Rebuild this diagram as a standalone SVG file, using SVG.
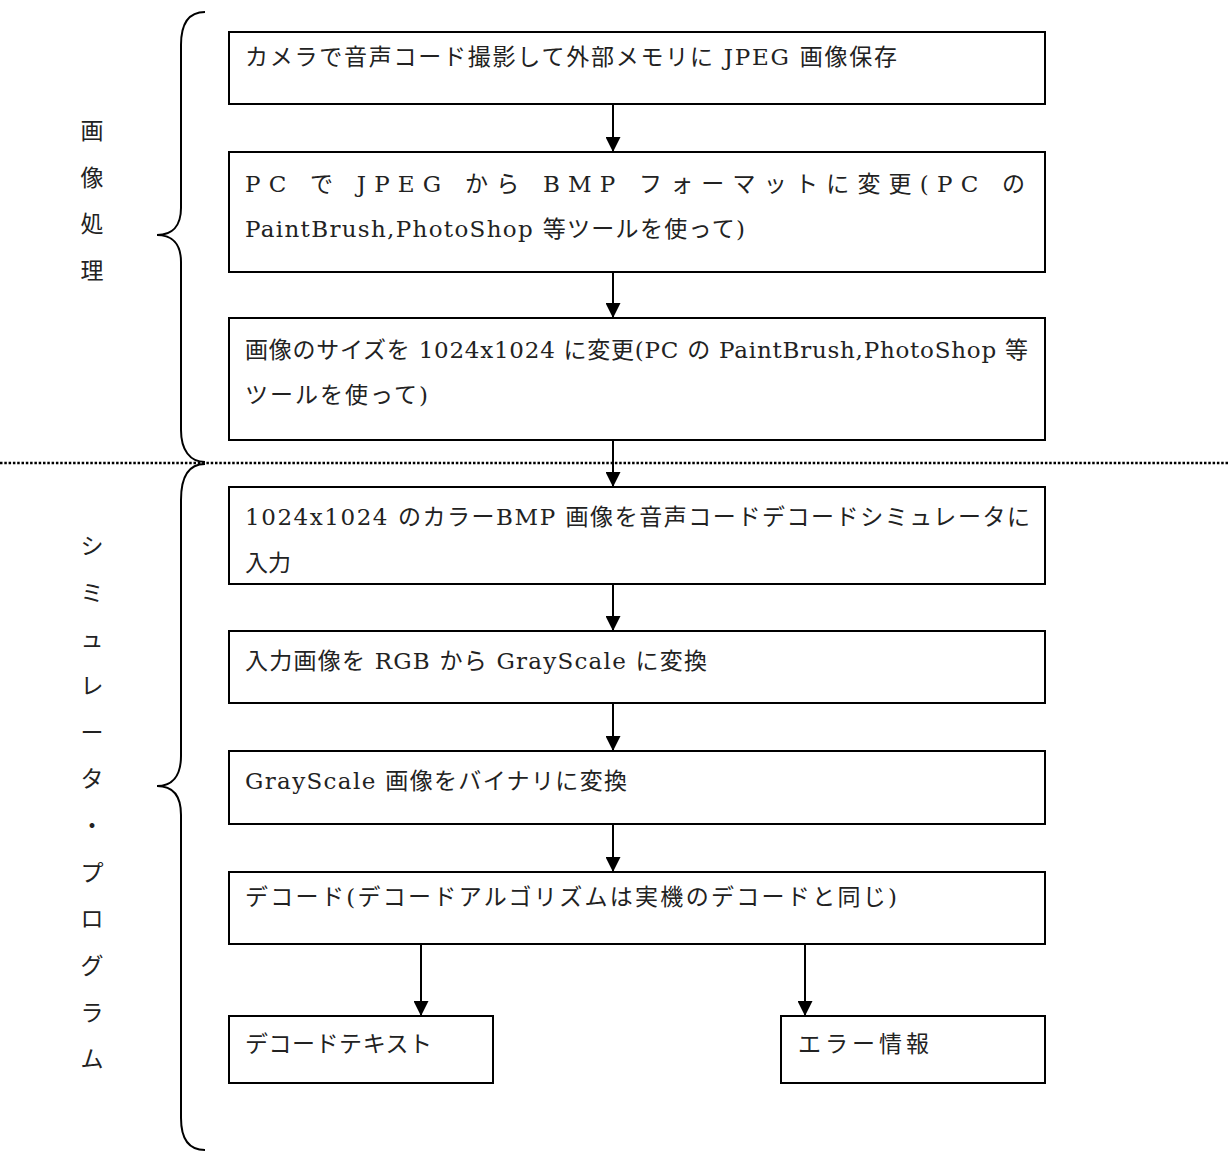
<svg xmlns="http://www.w3.org/2000/svg" width="1229" height="1155" viewBox="0 0 1229 1155">
<defs>
<style>
.box{fill:#fff;stroke:#000;stroke-width:2}
.t{font-family:"DejaVu Serif","Noto Sans CJK JP",serif;font-size:23px;fill:#222}
.lbl{font-family:"Noto Sans CJK JP",serif;font-size:23px;fill:#222;text-anchor:middle}
.conn{stroke:#000;stroke-width:2;fill:none}
.brace{stroke:#000;stroke-width:2;fill:none}
</style>
<marker id="ah" viewBox="0 0 10 10" refX="10" refY="5" markerWidth="15" markerHeight="15" markerUnits="userSpaceOnUse" orient="auto">
<path d="M0,0 L10,5 L0,10 z" fill="#000"/>
</marker>
</defs>
<rect width="1229" height="1155" fill="#fff"/>

<g id="braces">
<path class="brace" d="M205,12 C190,12 181,22 181,45 L181,208 C181,226 172,235 157,235 C172,235 181,244 181,262 L181,430 C181,450 190,462 205,462"/>
<path class="brace" d="M205,464 C190,464 181,475 181,500 L181,756 C181,776 172,786 157,786 C172,786 181,795 181,815 L181,1118 C181,1140 190,1150 205,1150"/>
</g>

<line id="separator" x1="0" y1="463" x2="1229" y2="463" stroke="#000" stroke-width="2.5" stroke-dasharray="2.5 1.8"/>

<g id="label-image">
<text class="lbl" x="92" y="139">画</text>
<text class="lbl" x="92" y="186">像</text>
<text class="lbl" x="92" y="232">処</text>
<text class="lbl" x="92" y="279">理</text>
</g>
<g id="label-sim">
<text class="lbl" x="92" y="554">シ</text>
<text class="lbl" x="92" y="601">ミ</text>
<text class="lbl" x="92" y="647">ュ</text>
<text class="lbl" x="92" y="694">レ</text>
<text class="lbl" x="92" y="741">ー</text>
<text class="lbl" x="92" y="787">タ</text>
<text class="lbl" x="92" y="834">・</text>
<text class="lbl" x="92" y="881">プ</text>
<text class="lbl" x="92" y="927">ロ</text>
<text class="lbl" x="92" y="974">グ</text>
<text class="lbl" x="92" y="1021">ラ</text>
<text class="lbl" x="92" y="1067">ム</text>
</g>

<g id="connectors">
<line class="conn" x1="613" y1="104" x2="613" y2="152" marker-end="url(#ah)"/>
<line class="conn" x1="613" y1="272" x2="613" y2="318" marker-end="url(#ah)"/>
<line class="conn" x1="613" y1="440" x2="613" y2="487" marker-end="url(#ah)"/>
<line class="conn" x1="613" y1="584" x2="613" y2="631" marker-end="url(#ah)"/>
<line class="conn" x1="613" y1="703" x2="613" y2="751" marker-end="url(#ah)"/>
<line class="conn" x1="613" y1="824" x2="613" y2="872" marker-end="url(#ah)"/>
<line class="conn" x1="421" y1="944" x2="421" y2="1016" marker-end="url(#ah)"/>
<line class="conn" x1="805" y1="944" x2="805" y2="1016" marker-end="url(#ah)"/>
</g>

<g id="n1">
<rect class="box" x="229" y="32" width="816" height="72"/>
<text class="t" x="245" y="65" textLength="652" lengthAdjust="spacing">カメラで音声コード撮影して外部メモリに JPEG 画像保存</text>
</g>
<g id="n2">
<rect class="box" x="229" y="152" width="816" height="120"/>
<text class="t" x="245" y="192" textLength="780" lengthAdjust="spacing">PC で JPEG から BMP フォーマットに変更(PC の</text>
<text class="t" x="245" y="237" textLength="500" lengthAdjust="spacing">PaintBrush,PhotoShop 等ツールを使って)</text>
</g>
<g id="n3">
<rect class="box" x="229" y="318" width="816" height="122"/>
<text class="t" x="245" y="358" textLength="783" lengthAdjust="spacing">画像のサイズを 1024x1024 に変更(PC の PaintBrush,PhotoShop 等</text>
<text class="t" x="245" y="403" textLength="183" lengthAdjust="spacing">ツールを使って)</text>
</g>
<g id="n4">
<rect class="box" x="229" y="487" width="816" height="97"/>
<text class="t" x="245" y="525" textLength="785" lengthAdjust="spacing">1024x1024 のカラーBMP 画像を音声コードデコードシミュレータに</text>
<text class="t" x="245" y="571">入力</text>
</g>
<g id="n5">
<rect class="box" x="229" y="631" width="816" height="72"/>
<text class="t" x="245" y="669" textLength="462" lengthAdjust="spacing">入力画像を RGB から GrayScale に変換</text>
</g>
<g id="n6">
<rect class="box" x="229" y="751" width="816" height="73"/>
<text class="t" x="245" y="789" textLength="382" lengthAdjust="spacing">GrayScale 画像をバイナリに変換</text>
</g>
<g id="n7">
<rect class="box" x="229" y="872" width="816" height="72"/>
<text class="t" x="245" y="905" textLength="652" lengthAdjust="spacing">デコード(デコードアルゴリズムは実機のデコードと同じ)</text>
</g>
<g id="n8">
<rect class="box" x="229" y="1016" width="264" height="67"/>
<text class="t" x="245" y="1052" textLength="187" lengthAdjust="spacing">デコードテキスト</text>
</g>
<g id="n9">
<rect class="box" x="781" y="1016" width="264" height="67"/>
<text class="t" x="798" y="1052" textLength="131" lengthAdjust="spacing">エラー情報</text>
</g>
</svg>
